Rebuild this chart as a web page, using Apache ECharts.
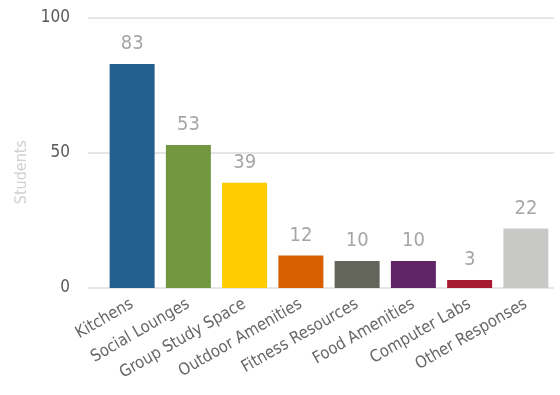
<!DOCTYPE html>
<html><head><meta charset="utf-8">
<script src="https://cdn.jsdelivr.net/npm/echarts@6/dist/echarts.min.js"></script>
<style>html,body{margin:0;padding:0;background:#fff}#c{width:560px;height:395px}</style>
</head><body><div id="c"></div>
<script>
var categories = ["Kitchens","Social Lounges","Group Study Space","Outdoor Amenities","Fitness Resources","Food Amenities","Computer Labs","Other Responses"];
var students = [83,53,39,12,10,10,3,22];
var barColors = ["#24608f","#71973f","#ffcc00","#d75f00","#63645a","#612566","#a61b2f","#c8c9c6"];
var yTicks = [0,50,100];

var font = "DejaVu Sans Condensed, DejaVu Sans, sans-serif";
var chart = echarts.init(document.getElementById('c'));
chart.setOption({
  animation:false,
  graphic:[{type:'text',left:14,top:140,rotation:Math.PI/2,
    style:{text:'Students',fill:'#d0d0d0',font:'16px '+font}}],
  grid:[
    {left:88,right:6,top:18,bottom:107},
    {left:104,right:6,top:18,bottom:107}
  ],
  xAxis:[
    {gridIndex:0,type:'category',data:categories,show:false},
    {gridIndex:1,type:'category',data:categories,
     axisLine:{show:false},axisTick:{show:false},
     axisLabel:{rotate:30,interval:0,color:'#666666',fontSize:16.5,fontFamily:font,margin:15}}
  ],
  yAxis:[
    {gridIndex:0,type:'value',min:yTicks[0],max:yTicks[2],interval:50,
     axisLine:{show:false},axisTick:{show:false},
     axisLabel:{color:'#595959',fontSize:17,fontFamily:font,margin:18},
     splitLine:{lineStyle:{color:'#e6e6e6',width:2}}},
    {gridIndex:1,type:'value',min:yTicks[0],max:yTicks[2],interval:50,show:false,splitLine:{show:false}}
  ],
  series:[{
    type:'bar',xAxisIndex:1,yAxisIndex:1,data:students,barWidth:45,
    itemStyle:{color:function(p){return barColors[p.dataIndex];}},
    label:{show:true,position:'top',distance:10,color:'#a6a6a6',fontSize:20,fontFamily:font}
  }]
});
</script></body></html>
